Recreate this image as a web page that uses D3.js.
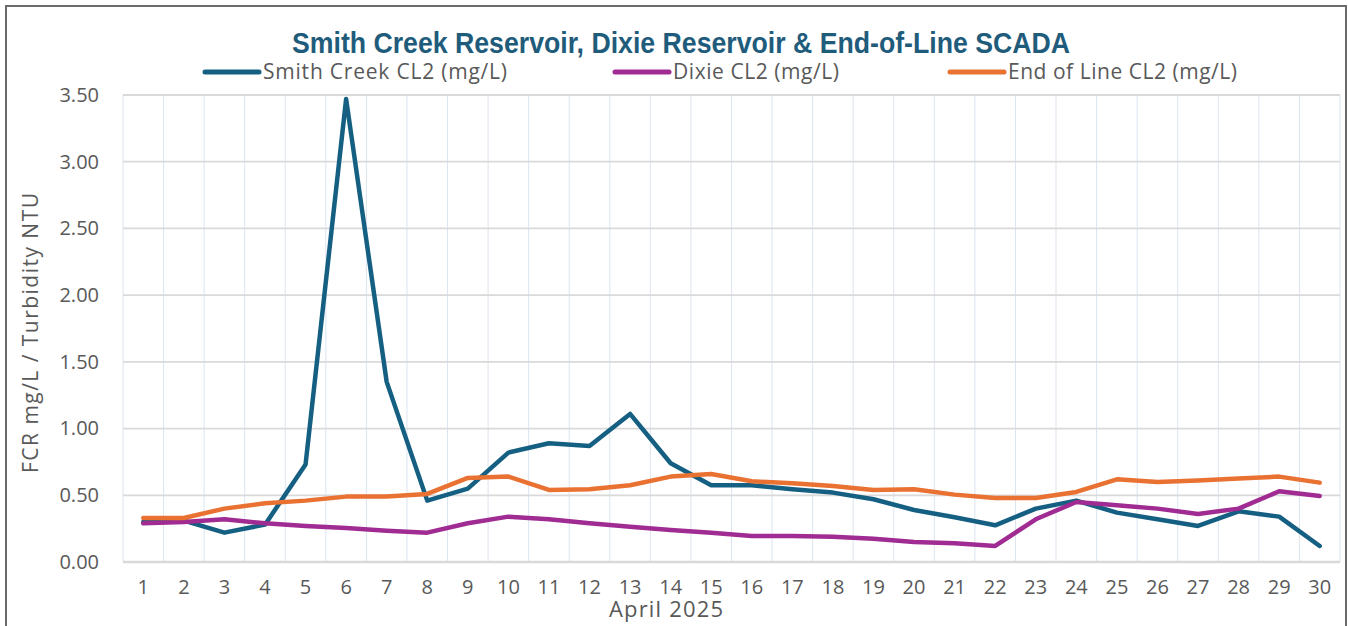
<!DOCTYPE html>
<html>
<head>
<meta charset="utf-8">
<script src="https://cdn.jsdelivr.net/npm/d3@7"></script>
<style>
  body { margin: 0; background: #fff; }
  svg { display: block; }
</style>
</head>
<body>
<script>
// days of April 2025
let days = d3.range(1, 31)

// chlorine readings (mg/L)
let smithCreek = [0.30, 0.31, 0.22, 0.28, 0.73, 3.47, 1.35, 0.46, 0.55, 0.82,
                  0.89, 0.87, 1.11, 0.74, 0.575, 0.575, 0.545, 0.52, 0.47, 0.39,
                  0.335, 0.275, 0.40, 0.46, 0.37, 0.32, 0.27, 0.38, 0.34, 0.12]
let dixie = [0.29, 0.30, 0.32, 0.29, 0.27, 0.255, 0.235, 0.22, 0.29, 0.34,
             0.32, 0.29, 0.265, 0.24, 0.22, 0.195, 0.195, 0.19, 0.175, 0.15,
             0.14, 0.12, 0.32, 0.45, 0.425, 0.40, 0.36, 0.40, 0.53, 0.495]
let endOfLine = [0.33, 0.33, 0.40, 0.44, 0.46, 0.49, 0.49, 0.51, 0.63, 0.64,
                 0.54, 0.545, 0.575, 0.64, 0.66, 0.605, 0.59, 0.57, 0.54, 0.545,
                 0.505, 0.48, 0.48, 0.525, 0.62, 0.60, 0.61, 0.625, 0.64, 0.595]

let seriesNames = ["Smith Creek CL2 (mg/L)", "Dixie CL2 (mg/L)", "End of Line CL2 (mg/L)"]
let seriesColors = ["#156082", "#a02b93", "#e97132"]
let yTicks = [0, 0.5, 1, 1.5, 2, 2.5, 3, 3.5]

let series = [smithCreek, dixie, endOfLine].map(function(vals, i) {
  return { name: seriesNames[i], color: seriesColors[i], values: vals }
})

let width = 1348, height = 626
let margin = {top: 95, right: 8, bottom: 64, left: 123}
let font = "'Open Sans', 'Liberation Sans', sans-serif"

let svg = d3.select("body").append("svg")
            .attr("width", width)
            .attr("height", height)

// chart frame
svg.append("rect")
   .attr("x", 6).attr("y", 6)
   .attr("width", 1340).attr("height", 640)
   .attr("fill", "#fff")
   .attr("stroke", "#6b6b6b")
   .attr("stroke-width", 2)

let x = d3.scaleBand()
          .domain(days)
          .range([margin.left, width - margin.right])

let y = d3.scaleLinear()
          .domain([0, 3.5])
          .range([height - margin.bottom, margin.top])

// vertical gridlines at category boundaries
svg.append("g")
   .selectAll("line")
   .data(days.concat([31]))
   .join("line")
   .attr("x1", d => d <= 30 ? x(d) : x(30) + x.bandwidth())
   .attr("x2", d => d <= 30 ? x(d) : x(30) + x.bandwidth())
   .attr("y1", y(3.5))
   .attr("y2", y(0))
   .attr("stroke", "#dbe4ef")
   .attr("stroke-width", 1)

// horizontal gridlines
svg.append("g")
   .selectAll("line")
   .data(yTicks)
   .join("line")
   .attr("x1", x.range()[0])
   .attr("x2", x.range()[1])
   .attr("y1", d => y(d))
   .attr("y2", d => y(d))
   .attr("stroke", "#d9d9d9")
   .attr("stroke-width", d => d === 0 ? 2.5 : 1.8)

// y axis labels
let yAxis = svg.append("g")
               .attr("transform", `translate(${margin.left},0)`)
               .call(d3.axisLeft(y).tickValues(yTicks).tickFormat(d3.format(".2f")).tickSize(0).tickPadding(24))
yAxis.select(".domain").remove()
yAxis.selectAll("text")
     .attr("font-family", font)
     .attr("font-size", 20)
     .attr("fill", "#595959")

// x axis labels
let xAxis = svg.append("g")
               .attr("transform", `translate(0,${y(0)})`)
               .call(d3.axisBottom(x).tickSize(0).tickPadding(18))
xAxis.select(".domain").remove()
xAxis.selectAll("text")
     .attr("font-family", font)
     .attr("font-size", 20)
     .attr("fill", "#595959")

// axis titles
svg.append("text")
   .attr("x", 666).attr("y", 617)
   .attr("text-anchor", "middle")
   .attr("font-family", font)
   .attr("font-size", 22)
   .attr("fill", "#595959")
   .attr("textLength", 114)
   .text("April 2025")

svg.append("text")
   .attr("transform", "translate(38,333) rotate(-90)")
   .attr("text-anchor", "middle")
   .attr("font-family", font)
   .attr("font-size", 21)
   .attr("fill", "#595959")
   .attr("textLength", 280)
   .text("FCR mg/L / Turbidity NTU")

// lines
let line = d3.line()
             .x((d, i) => x(days[i]) + x.bandwidth() / 2)
             .y(d => y(d))

svg.append("g")
   .selectAll("path")
   .data(series)
   .join("path")
   .attr("d", d => line(d.values))
   .attr("fill", "none")
   .attr("stroke", d => d.color)
   .attr("stroke-width", 4.5)
   .attr("stroke-linejoin", "round")
   .attr("stroke-linecap", "round")

// title
svg.append("text")
   .attr("x", 681).attr("y", 53)
   .attr("text-anchor", "middle")
   .attr("font-family", "'Liberation Sans', Arial, sans-serif")
   .attr("font-weight", "bold")
   .attr("font-size", 29)
   .attr("fill", "#1f5c7c")
   .attr("textLength", 778)
   .attr("lengthAdjust", "spacingAndGlyphs")
   .text("Smith Creek Reservoir, Dixie Reservoir & End-of-Line SCADA")

// legend
let legendX = [205, 615, 950]
let legendTextW = [244, 166, 229]
let legend = svg.append("g")
                .selectAll("g")
                .data(series)
                .join("g")
                .attr("transform", (d, i) => `translate(${legendX[i]},72)`)
legend.append("line")
      .attr("x1", 0).attr("x2", 54)
      .attr("stroke", d => d.color)
      .attr("stroke-width", 5)
      .attr("stroke-linecap", "round")
legend.append("text")
      .attr("x", 58).attr("y", 7)
      .attr("font-family", font)
      .attr("font-size", 21)
      .attr("fill", "#595959")
      .attr("textLength", (d, i) => legendTextW[i])
      .text(d => d.name)
</script>
</body>
</html>
